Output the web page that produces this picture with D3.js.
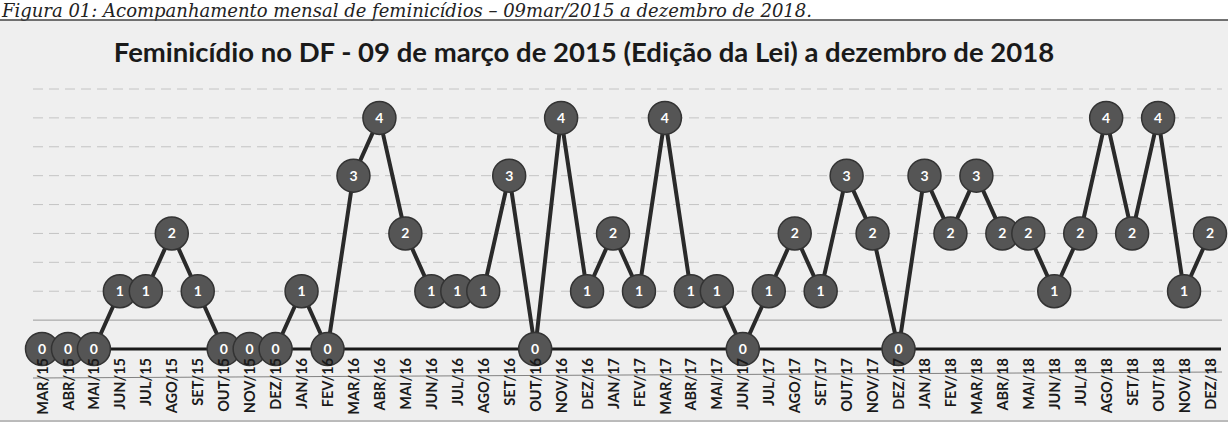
<!DOCTYPE html>
<html>
<head>
<meta charset="utf-8">
<script src="https://cdn.jsdelivr.net/npm/d3@7"></script>
<style>
  html, body { margin: 0; padding: 0; background: #fff; }
  svg { display: block; }
</style>
</head>
<body>
<div id="chart"></div>
<script>
// Feminicídio no DF - monthly counts, MAR/15 .. DEZ/18
const months = [
  'MAR/15', 'ABR/15', 'MAI/15', 'JUN/15', 'JUL/15', 'AGO/15', 'SET/15', 'OUT/15', 'NOV/15', 'DEZ/15',
  'JAN/16', 'FEV/16', 'MAR/16', 'ABR/16', 'MAI/16', 'JUN/16', 'JUL/16', 'AGO/16', 'SET/16', 'OUT/16', 'NOV/16', 'DEZ/16',
  'JAN/17', 'FEV/17', 'MAR/17', 'ABR/17', 'MAI/17', 'JUN/17', 'JUL/17', 'AGO/17', 'SET/17', 'OUT/17', 'NOV/17', 'DEZ/17',
  'JAN/18', 'FEV/18', 'MAR/18', 'ABR/18', 'MAI/18', 'JUN/18', 'JUL/18', 'AGO/18', 'SET/18', 'OUT/18', 'NOV/18', 'DEZ/18'
];
const counts = [
  0, 0, 0, 1, 1, 2, 1, 0, 0, 0,
  1, 0, 3, 4, 2, 1, 1, 1, 3, 0, 4, 1,
  2, 1, 4, 1, 1, 0, 1, 2, 1, 3, 2, 0,
  3, 2, 3, 2, 2, 1, 2, 4, 2, 4, 1, 2
];
const gridValues = [0.5, 1, 1.5, 2, 2.5, 3, 3.5, 4, 4.5];

const caption = 'Figura 01: Acompanhamento mensal de feminicídios – 09mar/2015 a dezembro de 2018.';
const title = 'Feminicídio no DF - 09 de março de 2015 (Edição da Lei) a dezembro de 2018';

const W = 1228, H = 423;
const svg = d3.select('#chart').append('svg')
  .attr('width', W).attr('height', H);

// paper background (photocopy grey)
svg.append('rect').attr('x', 0).attr('y', 20).attr('width', W).attr('height', 400)
  .attr('fill', '#efefef');

// caption above the chart
svg.append('text')
  .attr('x', 2).attr('y', 17)
  .attr('font-family', '"DejaVu Serif", serif')
  .attr('font-style', 'italic')
  .attr('font-size', 18)
  .attr('fill', '#222')
  .text(caption);
svg.append('line').attr('x1', 0).attr('x2', W).attr('y1', 20).attr('y2', 20)
  .attr('stroke', '#444').attr('stroke-width', 1.5);
svg.append('line').attr('x1', 0).attr('x2', W).attr('y1', 421).attr('y2', 421)
  .attr('stroke', '#777').attr('stroke-width', 1);

const x = d3.scalePoint().domain(months).range([42, 1210]);
const y = d3.scaleLinear().domain([0, 4.5]).range([349, 89]);

// title
svg.append('text')
  .attr('x', 584).attr('y', 62)
  .attr('text-anchor', 'middle')
  .attr('font-family', 'Lato, sans-serif')
  .attr('font-weight', 'bold')
  .attr('font-size', 27.5)
  .attr('fill', '#1a1a1a')
  .text(title);

// gridlines
svg.append('g')
  .selectAll('line')
  .data(gridValues)
  .join('line')
  .attr('x1', 33).attr('x2', 1222)
  .attr('y1', d => y(d)).attr('y2', d => y(d))
  .attr('stroke', d => d === 0.5 ? '#9a9a9a' : '#c4c4c4')
  .attr('stroke-width', 1)
  .attr('stroke-dasharray', d => d === 0.5 ? null : '10,6');

// axis baseline
svg.append('line')
  .attr('x1', 37).attr('x2', 1221)
  .attr('y1', y(0)).attr('y2', y(0))
  .attr('stroke', '#1a1a1a').attr('stroke-width', 3);

// thin copy line across the labels
svg.append('line').attr('x1', 33).attr('x2', 1222).attr('y1', 378).attr('y2', 372)
  .attr('stroke', '#666').attr('stroke-width', 0.8);

// series line
const line = d3.line()
  .x((d, i) => x(months[i]))
  .y(d => y(d));
svg.append('path')
  .datum(counts)
  .attr('d', line)
  .attr('fill', 'none')
  .attr('stroke', '#2a2a2a')
  .attr('stroke-width', 4)
  .attr('stroke-linejoin', 'round');

// markers with value labels
const pts = svg.append('g')
  .selectAll('g')
  .data(counts)
  .join('g')
  .attr('transform', (d, i) => `translate(${x(months[i])},${y(d)})`);
pts.append('circle')
  .attr('r', 16.5)
  .attr('fill', '#555')
  .attr('stroke', '#333')
  .attr('stroke-width', 1.5);
pts.append('text')
  .attr('text-anchor', 'middle')
  .attr('dy', '0.36em')
  .attr('font-family', 'Lato, sans-serif')
  .attr('font-weight', 'bold')
  .attr('font-size', 14)
  .attr('fill', '#fff')
  .text(d => d);

// x axis labels, drawn over the markers
const xAxis = svg.append('g')
  .attr('transform', `translate(0,${y(0)})`)
  .call(d3.axisBottom(x).tickSize(0).tickPadding(0));
xAxis.select('.domain').remove();
xAxis.selectAll('text')
  .attr('transform', 'rotate(-90)')
  .attr('text-anchor', 'end')
  .attr('x', -9).attr('y', 0).attr('dy', '0.35em')
  .attr('font-family', 'Lato, sans-serif')
  .attr('font-weight', 'bold')
  .attr('font-size', 14.5)
  .attr('fill', '#1a1a1a');
</script>
</body>
</html>
